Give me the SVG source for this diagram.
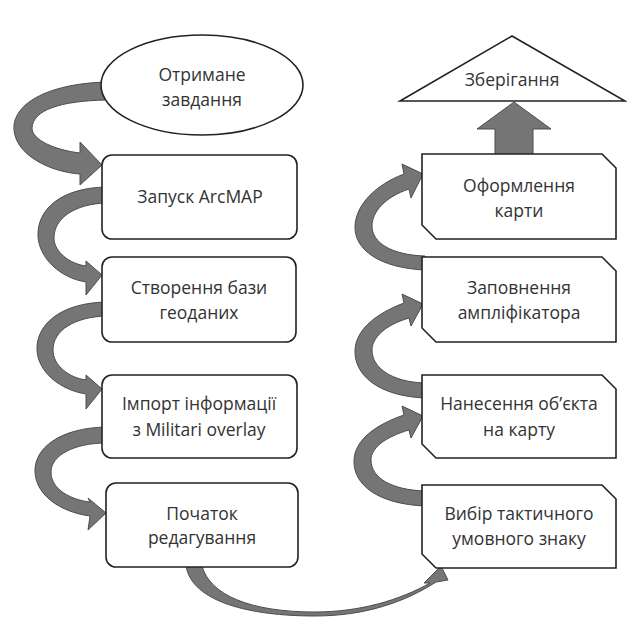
<svg xmlns="http://www.w3.org/2000/svg" width="627" height="619" viewBox="0 0 627 619">
<defs>
<style>
.arr{fill:#757575;stroke:#4d4d4d;stroke-width:1;stroke-linejoin:round}
.shape{fill:#fff;stroke:#222;stroke-width:1.6}
.t{font-family:"Open Sans","Noto Sans",sans-serif;font-size:17.5px;fill:#333;text-anchor:middle}
</style>
</defs>
<rect width="627" height="619" fill="#fff"/>
<g id="connectors">
<path class="arr" d="M 106 82 C 45 84, 12 105, 14 130 C 16 155, 50 172, 80 174 L 80 185 L 102 165 L 80 142 L 80 153 C 55 150, 32 140, 32 128 C 33 110, 60 101, 106 100 Z"/>
<path class="arr" d="M 106 187 C 60 188, 37 210, 38 236 C 39 258, 60 278, 86 282 L 86 295 L 102 275 L 86 261 L 86 266 C 70 264, 54 252, 54 238 C 54 218, 75 204, 106 203 Z"/>
<path class="arr" d="M 106 302 C 60 303, 36 325, 37 350 C 38 372, 60 390, 86 394 L 86 409 L 102 389 L 86 375 L 86 380 C 70 378, 53 366, 53 350 C 53 330, 75 317, 106 316 Z"/>
<path class="arr" d="M 106 427 C 60 428, 34 448, 35 472 C 36 495, 60 512, 90 516 L 88 530 L 106 513 L 88 498 L 90 502 C 72 500, 51 490, 51 472 C 51 455, 75 443, 106 443 Z"/>
<path class="arr" d="M 186 566 C 192 602, 250 616, 315 616 C 365 616, 405 602, 436 582 L 448 580 L 441 566 L 424 583 L 430 583 C 400 600, 360 612, 315 612 C 250 612, 210 595, 202 566 Z"/>
<path class="arr" d="M 425 506 C 378 504, 353 485, 354 460 C 355 440, 375 425, 404 415 L 402 406 L 423 416 L 411 438 L 409 430 C 385 437, 371 448, 371 460 C 371 478, 392 490, 425 491 Z"/>
<path class="arr" d="M 425 398 C 378 396, 354 375, 355 350 C 356 330, 375 314, 404 303 L 402 294 L 423 304 L 411 326 L 409 318 C 385 325, 372 338, 372 350 C 372 368, 392 382, 425 383 Z"/>
<path class="arr" d="M 425 270 C 380 268, 354 250, 355 226 C 356 205, 375 185, 404 174 L 402 164 L 423 174 L 411 198 L 409 189 C 385 197, 372 212, 372 226 C 372 243, 392 255, 425 256 Z"/>
<path class="arr" d="M 495 156 L 495 129 L 477 129 L 514 102 L 551 129 L 533 129 L 533 156 Z"/>
</g>
<g id="n-start">
<ellipse class="shape" cx="202" cy="85" rx="101" ry="50"/>
<text class="t" x="202" y="81">Отримане</text>
<text class="t" x="202" y="106">завдання</text>
</g>
<g id="n-arcmap">
<rect class="shape" x="102" y="155" width="195" height="84" rx="10"/>
<text class="t" x="200" y="203">Запуск ArcMAP</text>
</g>
<g id="n-gdb">
<rect class="shape" x="102" y="257" width="194" height="85" rx="10"/>
<text class="t" x="199" y="294">Створення бази</text>
<text class="t" x="199" y="319">геоданих</text>
</g>
<g id="n-import">
<rect class="shape" x="102" y="375" width="195" height="83" rx="10"/>
<text class="t" x="199" y="410">Імпорт інформації</text>
<text class="t" x="199" y="436">з Militari overlay</text>
</g>
<g id="n-edit">
<rect class="shape" x="106" y="483" width="192" height="84" rx="10"/>
<text class="t" x="202" y="520">Початок</text>
<text class="t" x="202" y="544">редагування</text>
</g>
<g id="n-select">
<path class="shape" d="M 422 485 L 602 485 L 616 499 L 616 568 L 436 568 L 422 554 Z"/>
<text class="t" x="519" y="520">Вибір тактичного</text>
<text class="t" x="519" y="545">умовного знаку</text>
</g>
<g id="n-place">
<path class="shape" d="M 422 375 L 602 375 L 616 389 L 616 458 L 436 458 L 422 444 Z"/>
<text class="t" x="519" y="410">Нанесення об’єкта</text>
<text class="t" x="519" y="436">на карту</text>
</g>
<g id="n-ampl">
<path class="shape" d="M 422 257 L 602 257 L 616 271 L 616 342 L 436 342 L 422 328 Z"/>
<text class="t" x="519" y="294">Заповнення</text>
<text class="t" x="519" y="319">ампліфікатора</text>
</g>
<g id="n-layout">
<path class="shape" d="M 422 154 L 602 154 L 616 168 L 616 239 L 436 239 L 422 225 Z"/>
<text class="t" x="519" y="192">Оформлення</text>
<text class="t" x="519" y="217">карти</text>
</g>
<g id="n-save">
<path class="shape" d="M 512 36 L 625 101 L 400 101 Z"/>
<text class="t" x="512" y="86">Зберігання</text>
</g>
</svg>
